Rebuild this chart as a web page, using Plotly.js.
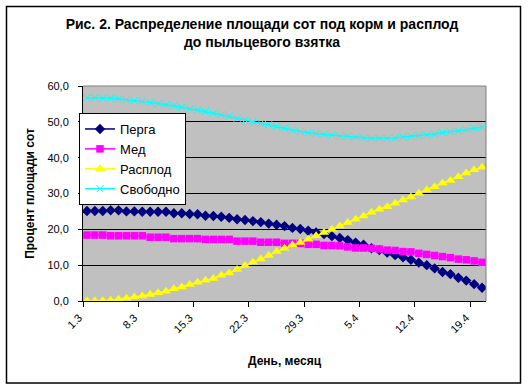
<!DOCTYPE html>
<html><head><meta charset="utf-8">
<script src="https://cdn.plot.ly/plotly-3.0.1.min.js"></script>
<style>html,body{margin:0;padding:0;background:#fff}#chart{width:529px;height:390px}</style>
</head><body><div id="chart"></div>
<script>
const days = ["1.3","2.3","3.3","4.3","5.3","6.3","7.3","8.3","9.3","10.3","11.3","12.3","13.3","14.3","15.3","16.3","17.3","18.3","19.3","20.3","21.3","22.3","23.3","24.3","25.3","26.3","27.3","28.3","29.3","30.3","31.3","1.4","2.4","3.4","4.4","5.4","6.4","7.4","8.4","9.4","10.4","11.4","12.4","13.4","14.4","15.4","16.4","17.4","18.4","19.4","20.4"];
const tickLabels = ["1.3","8.3","15.3","22.3","29.3","5.4","12.4","19.4"];
const perga = [25.1,25.1,25.1,25.3,25.3,25.0,25.0,24.9,24.9,24.9,24.9,24.5,24.5,24.3,24.2,23.8,23.7,23.5,23.2,22.8,22.6,22.3,22.0,21.6,21.3,20.9,20.4,20.1,19.6,19.1,18.7,18.1,17.6,17.0,16.3,15.7,14.7,14.2,13.5,12.8,12.2,11.5,10.7,10.0,9.1,8.1,7.5,6.5,5.7,4.7,3.7];
const med = [18.4,18.4,18.4,18.2,18.2,18.2,18.2,18.2,17.8,17.8,17.8,17.4,17.4,17.4,17.4,17.2,17.2,17.2,17.2,16.7,16.7,16.7,16.4,16.4,16.4,16.1,16.1,16.1,15.8,15.8,15.5,15.5,15.4,15.1,14.8,14.8,14.7,14.5,14.2,14.1,13.8,13.7,13.3,13.0,12.7,12.4,12.1,11.7,11.5,11.2,10.8];
const rasplod = [0.0,0.0,0.1,0.2,0.5,0.8,1.1,1.4,1.8,2.3,2.7,3.4,3.9,4.6,5.2,5.8,6.3,7.2,7.8,8.8,9.9,10.8,11.7,12.7,13.8,14.7,15.6,16.3,17.2,18.2,19.1,20.0,20.9,21.9,22.8,23.7,24.8,25.6,26.3,27.3,28.2,29.0,30.1,31.0,31.9,32.9,33.6,34.7,35.7,36.6,37.3];
const svobodno = [56.7,56.7,56.6,56.6,56.4,56.2,55.9,55.7,55.4,55.1,54.8,54.5,54.1,53.6,53.3,52.9,52.4,52.0,51.6,51.0,50.5,50.0,49.6,49.2,48.7,48.2,47.7,47.3,46.9,46.7,46.5,46.3,46.0,46.0,45.8,45.5,45.4,45.4,45.4,45.5,45.8,46.0,46.2,46.3,46.6,47.0,47.2,47.4,47.8,48.2,48.5];
const seriesNames = ["Перга","Мед","Расплод","Свободно"];

const F = "Arial, 'Liberation Sans', sans-serif";
const W = 529, H = 390, M = {l:83, r:43, t:86, b:89};
const pw = W - M.l - M.r, ph = H - M.t - M.b;
const px2x = p => (p - M.l) / pw;
const py2y = p => (H - M.b - p) / ph;

// ticks at category boundaries (Excel "between categories")
const tickPos = tickLabels.map(t => days.indexOf(t) - 0.5);

const traces = [
  {x: days, y: perga, name: seriesNames[0], mode: 'lines+markers',
   line: {color: '#000080', width: 1.5}, marker: {symbol: 'diamond', size: 8, color: '#000080'}},
  {x: days, y: med, name: seriesNames[1], mode: 'lines+markers',
   line: {color: '#FF00FF', width: 1.5}, marker: {symbol: 'square', size: 7.5, color: '#FF00FF'}},
  {x: days, y: rasplod, name: seriesNames[2], mode: 'lines+markers',
   line: {color: '#FFFF00', width: 1.5}, marker: {symbol: 'triangle-up', size: 9, color: '#FFFF00'}},
  {x: days, y: svobodno, name: seriesNames[3], mode: 'lines+markers',
   line: {color: '#00FFFF', width: 1.5}, marker: {symbol: 'x-thin', size: 7, color: '#00FFFF', line: {color: '#00FFFF', width: 1}}}
];

const layout = {
  width: W, height: H, margin: M,
  paper_bgcolor: '#FFFFFF', plot_bgcolor: '#C0C0C0',
  separators: ', ',
  font: {family: F, size: 11, color: '#000'},
  showlegend: true,
  title: {text: '<b>Рис. 2. Распределение площади сот под корм и расплод<br>до пыльцевого взятка</b>',
          font: {family: F, size: 14, color: '#000'}, x: 262/W, xref: 'container', xanchor: 'center',
          y: 1 - 29/H, yref: 'container', yanchor: 'top'},
  xaxis: {type: 'category', range: [-0.5, days.length - 0.5], tickmode: 'array',
          tickvals: tickPos, ticktext: tickLabels, tickangle: -45,
          ticks: 'outside', ticklen: 5, tickcolor: '#000', tickwidth: 1,
          showline: true, linecolor: '#000', linewidth: 1, showgrid: false, zeroline: false,
          tickfont: {family: F, size: 11, color: '#000'}, ticklabelshift: -4,
          title: {text: '<b>День, месяц</b>', font: {family: F, size: 12, color: '#000'}, standoff: 22}},
  yaxis: {range: [0, 60], dtick: 10, tick0: 0, tickformat: '.1f',
          ticks: 'outside', ticklen: 4, tickcolor: '#000', tickwidth: 1,
          showline: true, linecolor: '#000', linewidth: 1,
          showgrid: true, gridcolor: '#000', gridwidth: 1, zeroline: false,
          tickfont: {family: F, size: 11, color: '#000'}, ticklabelstandoff: 7,
          title: {text: '<b>Процент площади сот</b>', font: {family: F, size: 12, color: '#000'}, standoff: 10}},
  legend: {x: px2x(79), y: py2y(113), xanchor: 'left', yanchor: 'top',
           bgcolor: '#FFFFFF', bordercolor: '#000', borderwidth: 1,
           font: {family: F, size: 13, color: '#000'}, tracegroupgap: 0},
  shapes: [
    {type: 'line', xref: 'paper', yref: 'paper', x0: 0, x1: 1, y0: 1, y1: 1, line: {color: '#808080', width: 1}, layer: 'above'},
    {type: 'line', xref: 'paper', yref: 'paper', x0: 1, x1: 1, y0: 0, y1: 1, line: {color: '#808080', width: 1}, layer: 'above'},
    {type: 'rect', xref: 'paper', yref: 'paper', x0: px2x(6.5), x1: px2x(520.5), y0: py2y(383), y1: py2y(6.5),
     line: {color: '#000', width: 1.5}, fillcolor: 'rgba(0,0,0,0)', layer: 'above'}
  ]
};

Plotly.newPlot('chart', traces, layout, {displayModeBar: false, staticPlot: true});
</script>
</body></html>
